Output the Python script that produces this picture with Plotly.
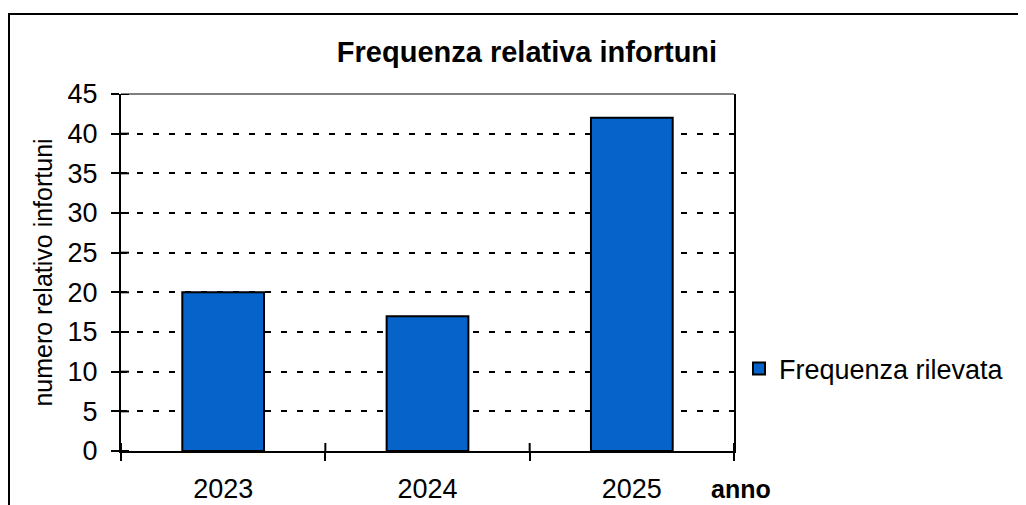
import plotly.graph_objects as go

years = ["2023", "2024", "2025"]
values = [20, 17, 42]
series_name = "Frequenza rilevata"
y_ticks = [0, 5, 10, 15, 20, 25, 30, 35, 40, 45]

FONT = "Liberation Sans, Arial, sans-serif"
BAR = "#0563C9"

fig = go.Figure()
fig.add_trace(go.Bar(
    x=years, y=values, name=series_name,
    marker=dict(color=BAR, line=dict(color="black", width=2)),
    showlegend=True,
))

# page has an 8px body margin, so layout coords = reference px - 8
OFF = 8
L, T = 121 - OFF, 94 - OFF
pw, ph = 613, 357
W, H = 1026 - OFF, 505 - OFF
R = W - L - pw
B = H - T - ph


def px(xr):
    return (xr - OFF - L) / pw


def py(yr):
    return (T + ph - (yr - OFF)) / ph


shapes = []
# outer chart border (extends past the visible window on right/bottom)
shapes.append(dict(type="rect", xref="paper", yref="paper",
                   x0=px(9), x1=1.6, y0=-1.0, y1=py(14),
                   line=dict(color="black", width=2), layer="below"))
# top border of plot area (grey, under the gridline)
shapes.append(dict(type="line", xref="paper", yref="paper", x0=0, x1=1, y0=1, y1=1,
                   line=dict(color="#808080", width=2), layer="below"))
# inside halves of the y ticks (cross ticks)
for v in y_ticks:
    shapes.append(dict(type="line", xref="paper", yref="y", xsizemode="pixel", xanchor=0,
                       x0=0, x1=8, y0=v, y1=v, line=dict(color="black", width=2)))
# inside halves of the x ticks at category boundaries
for i in range(len(years) + 1):
    shapes.append(dict(type="line", xref="x", yref="paper", ysizemode="pixel", yanchor=0,
                       x0=i - 0.5, x1=i - 0.5, y0=0, y1=8, line=dict(color="black", width=2)))

fig.update_layout(
    width=W, height=H,
    margin=dict(l=L, r=R, t=T, b=B),
    paper_bgcolor="white", plot_bgcolor="white",
    font=dict(family=FONT, color="black", size=27),
    bargap=0.6,
    title=dict(text="<b>Frequenza relativa infortuni</b>", x=(527 - OFF) / W, xanchor="center",
               y=1 - (52 - OFF) / H, yanchor="middle", font=dict(size=29, family=FONT),
               automargin=False),
    xaxis=dict(type="category", showline=True, linecolor="black", linewidth=2,
               ticks="outside", tickson="boundaries", ticklen=8, tickwidth=2, tickcolor="black",
               showgrid=False, tickfont=dict(size=27), ticklabelstandoff=13,
               range=[-0.5, 2.5], automargin=False),
    yaxis=dict(range=[0, 45], tickvals=y_ticks, showline=True, linecolor="black", linewidth=2,
               mirror=True,
               ticks="outside", ticklen=8, tickwidth=2, tickcolor="black",
               showgrid=True, gridcolor="black", gridwidth=2, griddash="6px,10px",
               zeroline=False, tickfont=dict(size=27), ticklabelstandoff=8,
               title=dict(text="numero relativo infortuni", font=dict(size=25), standoff=8),
               automargin=False),
    legend=dict(x=px(739), xanchor="left", y=py(369), yanchor="middle",
                font=dict(size=27), bgcolor="rgba(0,0,0,0)"),
    shapes=shapes,
    annotations=[dict(text="<b>anno</b>", xref="paper", yref="paper",
                      x=px(709), xanchor="left", y=py(489), yanchor="middle",
                      showarrow=False, font=dict(size=25, family=FONT))],
)

fig.write_html("out.html")
